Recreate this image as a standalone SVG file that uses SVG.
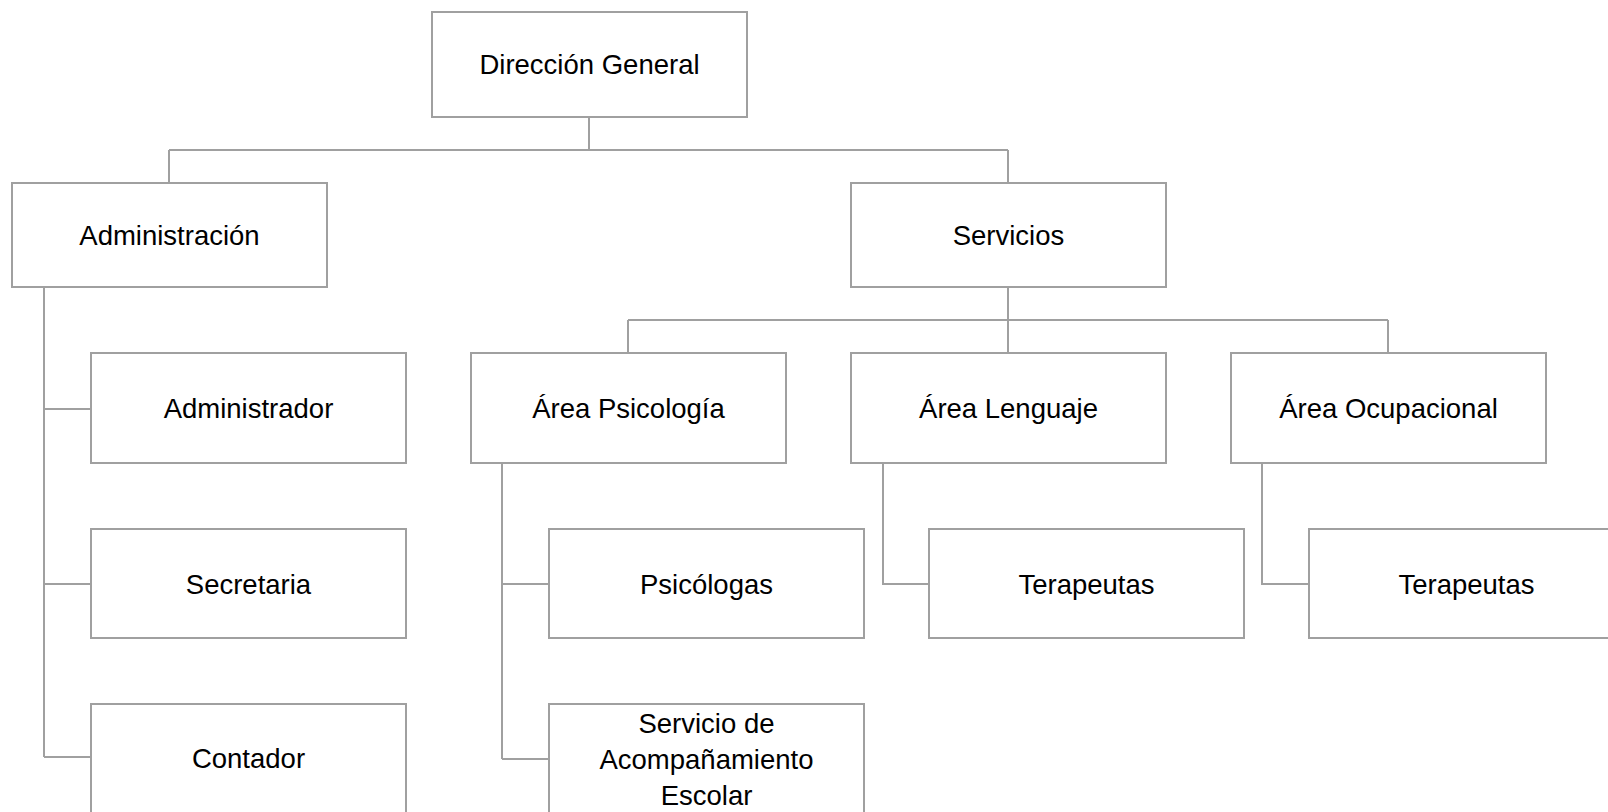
<svg xmlns="http://www.w3.org/2000/svg" width="1608" height="812" viewBox="0 0 1608 812">
<style>
.box{fill:#ffffff;stroke:#a0a0a0;stroke-width:2}
.lbl{font-family:"Liberation Sans",Arial,sans-serif;font-size:27.5px;fill:#000000;text-anchor:middle}
.con{fill:none;stroke:#a0a0a0;stroke-width:2}
</style>
<rect width="1608" height="812" fill="#ffffff"/>
<g id="connectors">
<path class="con" d="M589,117 V150 M169,150 H1008 M169,150 V183 M1008,150 V183"/>
<path class="con" d="M44,287 V757 M44,409 H91 M44,584 H91 M44,757 H91"/>
<path class="con" d="M1008,287 V320 M628,320 H1388 M628,320 V353 M1008,320 V353 M1388,320 V353"/>
<path class="con" d="M502,463 V759 M502,584 H549 M502,759 H549"/>
<path class="con" d="M883,463 V584 H929"/>
<path class="con" d="M1262,463 V584 H1309"/>
</g>
<g id="direccion"><rect class="box" x="432" y="12" width="315" height="105"/><text class="lbl" x="589.5" y="74">Dirección General</text></g>
<g id="administracion"><rect class="box" x="12" y="183" width="315" height="104"/><text class="lbl" x="169.5" y="245">Administración</text></g>
<g id="servicios"><rect class="box" x="851" y="183" width="315" height="104"/><text class="lbl" x="1008.5" y="245">Servicios</text></g>
<g id="administrador"><rect class="box" x="91" y="353" width="315" height="110"/><text class="lbl" x="248.5" y="418">Administrador</text></g>
<g id="secretaria"><rect class="box" x="91" y="529" width="315" height="109"/><text class="lbl" x="248.5" y="594">Secretaria</text></g>
<g id="contador"><rect class="box" x="91" y="704" width="315" height="115"/><text class="lbl" x="248.5" y="768">Contador</text></g>
<g id="area-psicologia"><rect class="box" x="471" y="353" width="315" height="110"/><text class="lbl" x="628.5" y="418">Área Psicología</text></g>
<g id="area-lenguaje"><rect class="box" x="851" y="353" width="315" height="110"/><text class="lbl" x="1008.5" y="418">Área Lenguaje</text></g>
<g id="area-ocupacional"><rect class="box" x="1231" y="353" width="315" height="110"/><text class="lbl" x="1388.5" y="418">Área Ocupacional</text></g>
<g id="psicologas"><rect class="box" x="549" y="529" width="315" height="109"/><text class="lbl" x="706.5" y="594">Psicólogas</text></g>
<g id="acompanamiento"><rect class="box" x="549" y="704" width="315" height="115"/><text class="lbl" x="706.5" y="733">Servicio de</text><text class="lbl" x="706.5" y="769">Acompañamiento</text><text class="lbl" x="706.5" y="805">Escolar</text></g>
<g id="terapeutas-lenguaje"><rect class="box" x="929" y="529" width="315" height="109"/><text class="lbl" x="1086.5" y="594">Terapeutas</text></g>
<g id="terapeutas-ocupacional"><rect class="box" x="1309" y="529" width="315" height="109"/><text class="lbl" x="1466.5" y="594">Terapeutas</text></g>
</svg>
